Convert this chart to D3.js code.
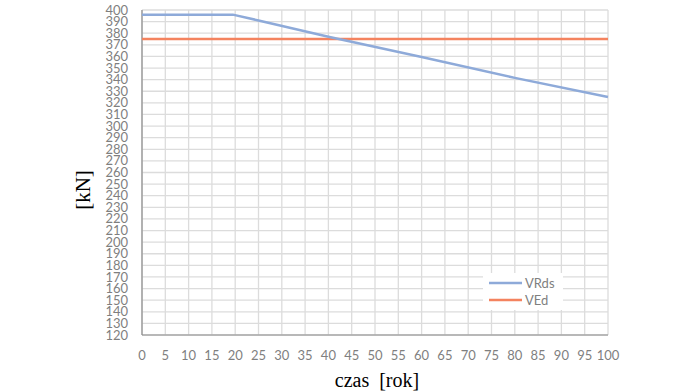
<!DOCTYPE html>
<html><head><meta charset="utf-8">
<script src="https://cdn.jsdelivr.net/npm/d3@7"></script>
<style>body{margin:0;background:#fff}</style>
</head><body>
<svg id="c" width="695" height="391"></svg>
<script>
const years = [0, 19.5, 25, 40, 60, 80, 100];
const vrds  = [396, 396, 391, 377, 359.5, 341.5, 325];
const vedYears = [0, 100];
const ved = [375, 375];
const xTicks = d3.range(0, 101, 5);
const yTicks = d3.range(120, 401, 10);
const seriesNames = ["VRds", "VEd"];
const colors = ["#8eaad9", "#f4835f"];

const svg = d3.select("#c");
const L = 142, R = 608, T = 10, B = 335;
const x = d3.scaleLinear().domain([0, 100]).range([L, R]);
const y = d3.scaleLinear().domain([120, 400]).range([B, T]);

// grid
svg.append("g").selectAll("line").data(yTicks).join("line")
  .attr("x1", L).attr("x2", R).attr("y1", d => y(d)).attr("y2", d => y(d))
  .attr("stroke", "#dcdcdc").attr("stroke-width", 1.3);
svg.append("g").selectAll("line").data(xTicks).join("line")
  .attr("y1", T).attr("y2", B).attr("x1", d => x(d)).attr("x2", d => x(d))
  .attr("stroke", "#dcdcdc").attr("stroke-width", 1.3);

// axes lines
svg.append("line").attr("x1", L).attr("x2", L).attr("y1", T).attr("y2", B).attr("stroke", "#8c8c8c").attr("stroke-width", 1.2);
svg.append("line").attr("x1", L).attr("x2", R).attr("y1", B).attr("y2", B).attr("stroke", "#8c8c8c").attr("stroke-width", 1.2);

const tickFont = "Lato, 'Open Sans', sans-serif";
svg.append("g").selectAll("text").data(yTicks).join("text")
  .attr("x", 128).attr("y", d => y(d)).attr("dy", "0.35em")
  .attr("text-anchor", "end").attr("font-family", tickFont).attr("font-size", 13)
  .attr("fill", "#7f7f7f").text(d => d);
svg.append("g").selectAll("text").data(xTicks).join("text")
  .attr("x", d => x(d)).attr("y", 355).attr("dy", "0.35em")
  .attr("text-anchor", "middle").attr("font-family", tickFont).attr("font-size", 13)
  .attr("fill", "#7f7f7f").text(d => d);

// lines
const line = d3.line().x(d => x(d[0])).y(d => y(d[1]));
svg.append("path").datum(vedYears.map((t, i) => [t, ved[i]]))
  .attr("d", line).attr("fill", "none").attr("stroke", colors[1]).attr("stroke-width", 2.5);
svg.append("path").datum(years.map((t, i) => [t, vrds[i]]))
  .attr("d", line).attr("fill", "none").attr("stroke", colors[0]).attr("stroke-width", 2.5);

// legend
const lg = svg.append("g");
lg.append("rect").attr("x", 483).attr("y", 273).attr("width", 80).attr("height", 37).attr("fill", "#fff");
seriesNames.forEach((n, i) => {
  const yy = 283 + i * 17;
  lg.append("line").attr("x1", 489).attr("x2", 522).attr("y1", yy).attr("y2", yy)
    .attr("stroke", colors[i]).attr("stroke-width", 2.5);
  lg.append("text").attr("x", 525).attr("y", yy).attr("dy", "0.35em")
    .attr("font-family", tickFont).attr("font-size", 13).attr("fill", "#7f7f7f").text(n);
});

// axis titles
svg.append("text").attr("transform", "translate(83,190) rotate(-90)")
  .attr("text-anchor", "middle").attr("dy", "0.35em")
  .attr("font-family", "'Liberation Serif', serif").attr("font-size", 21).attr("fill", "#000").text("[kN]");
svg.append("text").attr("x", 377).attr("y", 380).attr("dy", "0.35em")
  .attr("text-anchor", "middle").attr("xml:space", "preserve")
  .attr("font-family", "'Liberation Serif', serif").attr("font-size", 20).attr("fill", "#000").text("czas  [rok]");
</script>
</body></html>
